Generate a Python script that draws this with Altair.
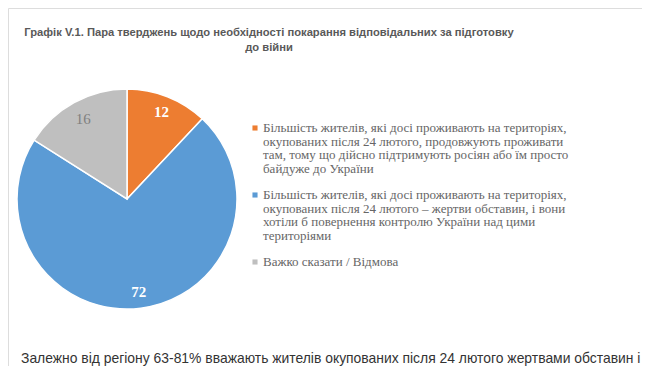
import altair as alt
import pandas as pd

categories = [
    "Більшість жителів, які досі проживають на територіях,|окупованих після 24 лютого, продовжують проживати|там, тому що дійсно підтримують росіян або їм просто|байдуже до України",
    "Більшість жителів, які досі проживають на територіях,|окупованих після 24 лютого – жертви обставин, і вони|хотіли б повернення контролю України над цими|територіями",
    "Важко сказати / Відмова",
]
values = [12, 72, 16]
order = [1, 2, 3]
colors = ["#ED7D31", "#5B9BD5", "#BFBFBF"]

title_lines = [
    "Графік V.1. Пара тверджень щодо необхідності покарання відповідальних за підготовку",
    "до війни",
]
footer = "Залежно від регіону 63-81% вважають жителів окупованих після 24 лютого жертвами обставин і"

df = pd.DataFrame({"cat": categories, "value": values, "ord": order})

CX, CY, R = 119, 191, 110
SANS = "Liberation Sans, Arial, sans-serif"
SERIF = "Liberation Serif, Times New Roman, serif"

color_scale = alt.Scale(domain=categories, range=colors)

pie = alt.Chart(df).mark_arc(outerRadius=R, stroke="white", strokeWidth=1.5).encode(
    theta=alt.Theta("value:Q", stack=True),
    order=alt.Order("ord:Q"),
    x=alt.value(CX),
    y=alt.value(CY),
    color=alt.Color("cat:N", scale=color_scale, sort=categories, legend=None),
)

lab = (
    alt.Chart(df)
    .transform_joinaggregate(total="sum(value)")
    .transform_window(cum="sum(value)", sort=[alt.SortField("ord")])
    .transform_calculate(mid="(datum.cum - datum.value / 2) / datum.total * 2 * PI")
)

labels_white = lab.transform_filter("datum.ord != 3").mark_text(
    radius=94, font=SERIF, fontSize=15, fontWeight="bold", color="white"
).encode(
    theta=alt.Theta("mid:Q", scale=None, stack=False),
    text="value:Q", x=alt.value(CX), y=alt.value(CY),
)

labels_gray = lab.transform_filter("datum.ord == 3").mark_text(
    radius=91, font=SERIF, fontSize=15, color="#7F7F7F"
).encode(
    theta=alt.Theta("mid:Q", scale=None, stack=False),
    text="value:Q", x=alt.value(CX), y=alt.value(CY),
)

leg_y = alt.Y("ord:O", axis=None, scale=alt.Scale(type="point", range=[120, 254], padding=0))

leg_sym = alt.Chart(df).mark_square(size=26, opacity=1).encode(
    x=alt.value(247),
    y=leg_y,
    color=alt.Color("cat:N", scale=color_scale, legend=None),
)

leg_txt = alt.Chart(df).transform_calculate(
    lines="split(datum.cat, '|')"
).mark_text(
    font=SERIF, fontSize=13, color="#666666", align="left",
    baseline="alphabetic", lineHeight=13.5, dy=4,
).encode(
    x=alt.value(255),
    y=leg_y,
    text="lines:N",
)

title = alt.Chart(pd.DataFrame({"t": [title_lines]})).mark_text(
    font=SANS, fontSize=11.2, fontWeight="bold", color="#595959",
    align="center", baseline="alphabetic", lineHeight=15,
).encode(text="t", x=alt.value(261), y=alt.value(28))

foot = alt.Chart(pd.DataFrame({"t": [footer]})).mark_text(
    font=SANS, fontSize=13.9, color="#333333", align="left", baseline="alphabetic",
).encode(text="t:N", x=alt.value(13), y=alt.value(355))

chart = alt.layer(pie, labels_white, labels_gray, leg_sym, leg_txt, title, foot).properties(
    width=634, height=358, padding=0, autosize="none"
).configure_view(stroke=None).configure(background="white")

chart.save("out.html", embed_options={"renderer": "svg", "actions": False})
